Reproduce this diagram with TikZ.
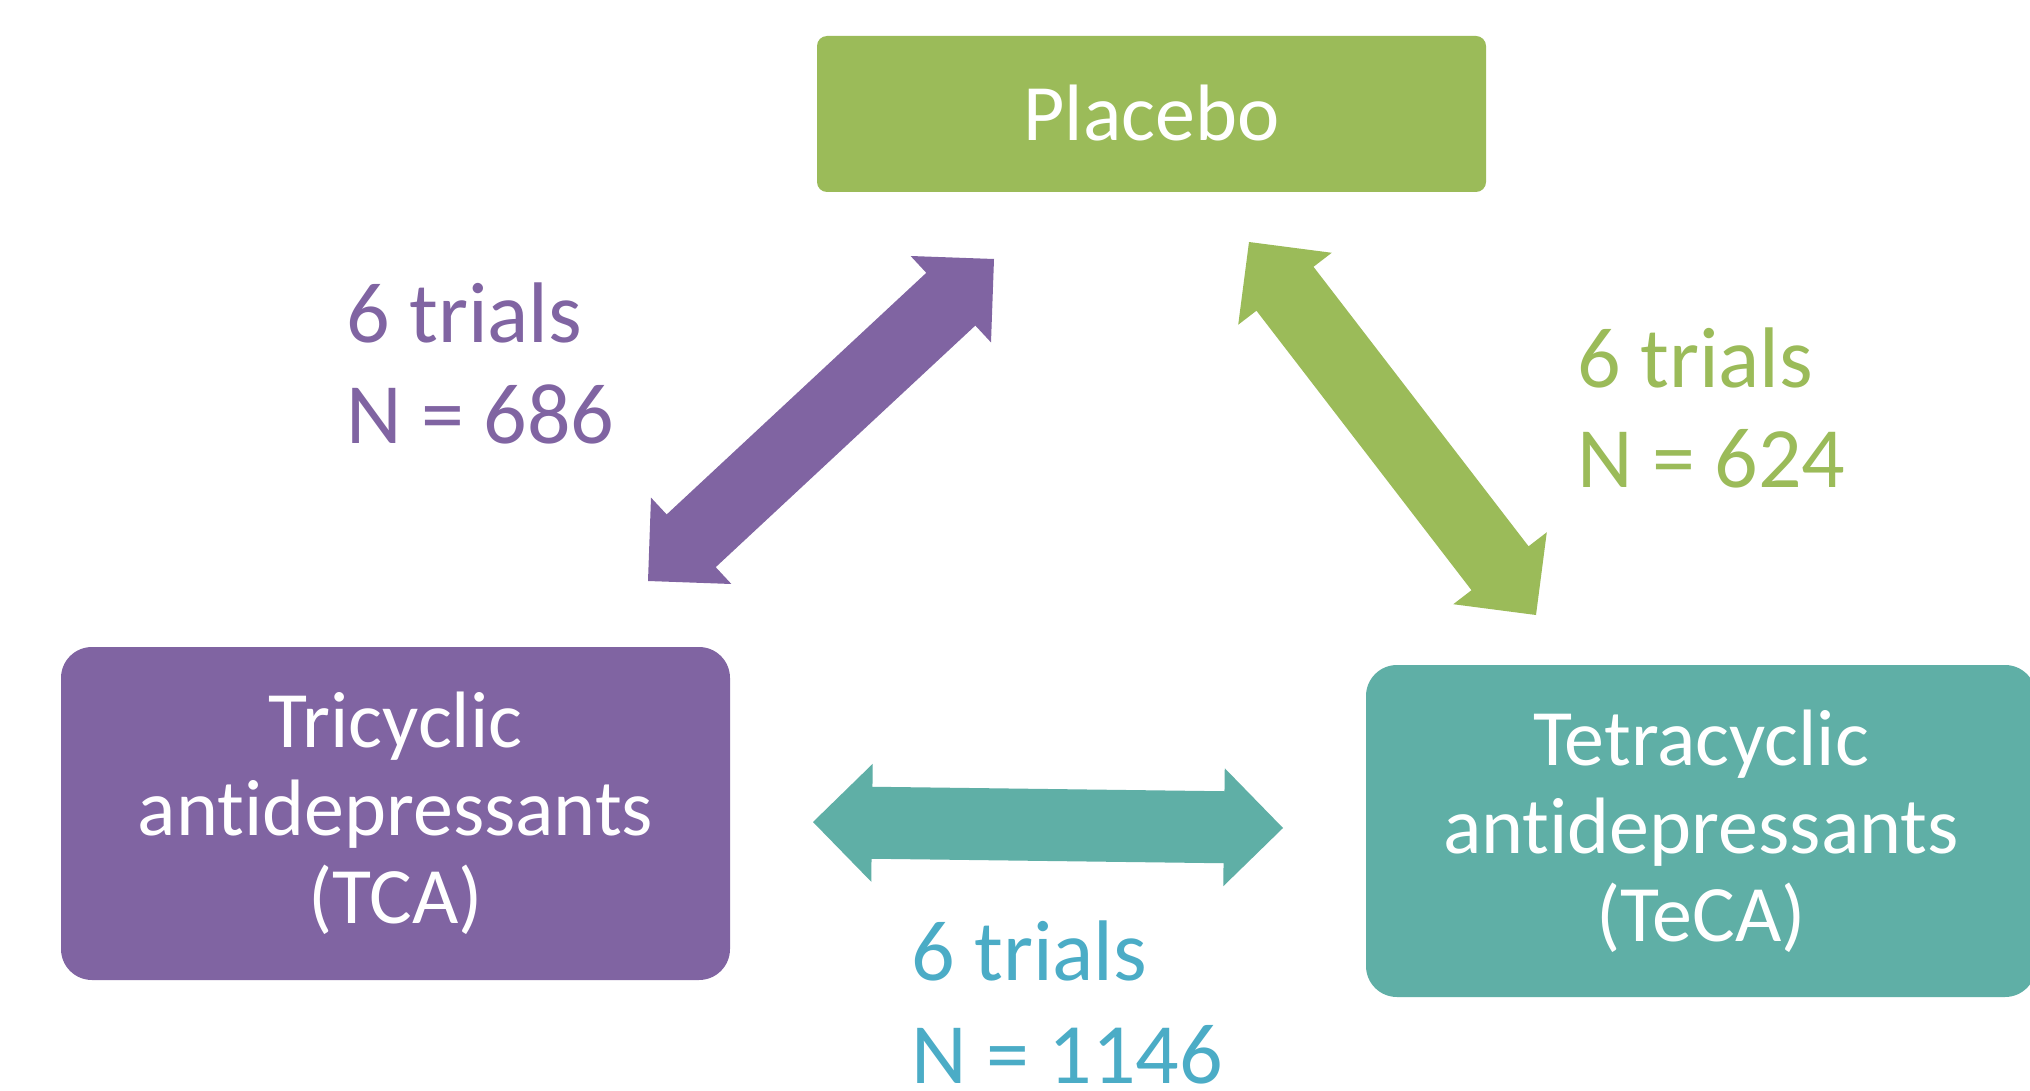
\documentclass[tikz,border=0pt]{standalone}
\usepackage{fontspec}
\setmainfont[RawFeature={-liga;-clig;-calt;-dlig}]{Carlito}
\usetikzlibrary{calc}
\definecolor{cpurple}{HTML}{8064A2}
\definecolor{cgreen}{HTML}{9BBB59}
\definecolor{cteal}{HTML}{5FAFA6}
\definecolor{caqua}{HTML}{4BACC6}
\newcommand\blockarrow[3]{%
  \path ($(#1)!59pt!(#2)$) coordinate (m1) ($(#2)!59pt!(#1)$) coordinate (m2);
  \fill[#3] (#1) -- ($(m1)!59pt!90:(#2)$) -- ($(m1)!36pt!90:(#2)$)
    -- ($(m2)!36pt!-90:(#1)$) -- ($(m2)!59pt!-90:(#1)$) -- (#2)
    -- ($(m2)!59pt!90:(#1)$) -- ($(m2)!36pt!90:(#1)$)
    -- ($(m1)!36pt!-90:(#2)$) -- ($(m1)!59pt!-90:(#2)$) -- cycle;}
\begin{document}
\begin{tikzpicture}[x=1pt,y=-1pt,
  box/.style={inner sep=0pt, text=white, align=center,
    font=\fontsize{80}{88}\selectfont},
  lbl/.style={anchor=base west, inner sep=0pt,
    font=\fontsize{86}{100}\selectfont}]
\useasboundingbox (0,0) rectangle (2030,1091);
\clip (0,0) rectangle (2030,1091);
\fill[white] (0,0) rectangle (2030,1091);
% boxes
\node[box, fill=cgreen, rounded corners=10pt, minimum width=669pt, minimum height=156pt] (placebo) at (1151.5,114) {\raisebox{3pt}{Placebo}};
\node[box, fill=cpurple, rounded corners=31pt, minimum width=669pt, minimum height=333pt] (tca) at (395.5,813.5) {Tricyclic\\ant\kern0pt idepressants\\(TCA)};
\node[box, fill=cteal, rounded corners=31pt, minimum width=670pt, minimum height=332pt] (teca) at (1701,831) {Tetracyclic\\ant\kern0pt idepressants\\(TeCA)};
% arrow end points
\coordinate (pa1) at (648,581);
\coordinate (pa2) at (994,259);
\coordinate (ga1) at (1249,242);
\coordinate (ga2) at (1536,615);
\coordinate (ta1) at (813,822);
\coordinate (ta2) at (1283,828);
\blockarrow{pa1}{pa2}{cpurple}
\blockarrow{ga1}{ga2}{cgreen}
\blockarrow{ta1}{ta2}{cteal}
% labels
\node[lbl, text=cpurple] (l1a) at (346,342) {6 trials};
\node[lbl, text=cpurple] (l1b) at (346,443) {N = 686};
\node[lbl, text=cgreen] (l2a) at (1577,387) {6 trials};
\node[lbl, text=cgreen] (l2b) at (1577,487) {N = 624};
\node[lbl, text=caqua] (l3a) at (911,980) {6 trials};
\node[lbl, text=caqua] (l3b) at (911,1083) {N = 1146};
\end{tikzpicture}
\end{document}
